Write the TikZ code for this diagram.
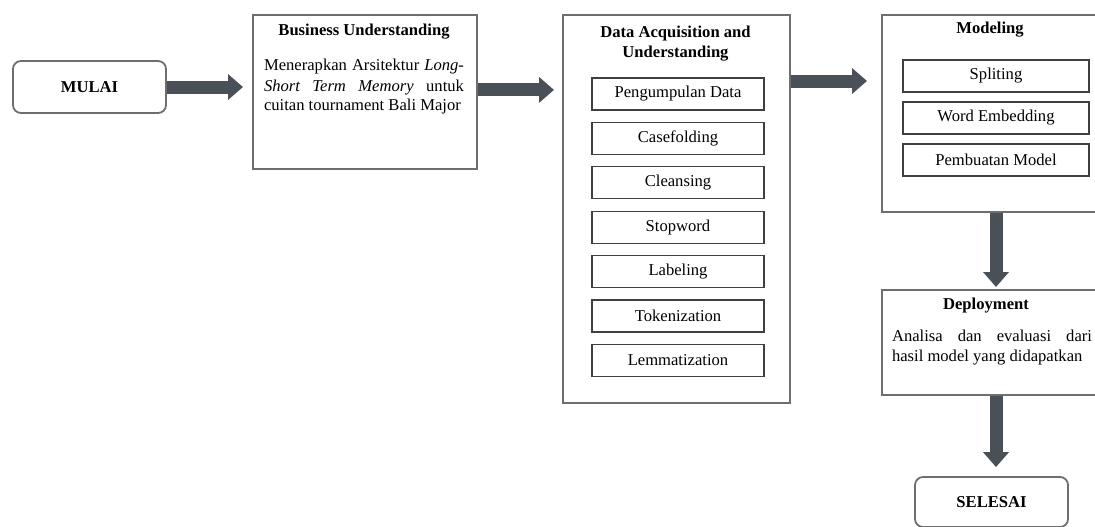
\documentclass[tikz,border=0pt]{standalone}
\usepackage{fontspec}
\setmainfont{Liberation Serif}
\usepackage{xcolor}
\usepackage{tikz}
\usetikzlibrary{arrows.meta}
\definecolor{framegray}{RGB}{110,110,110}
\definecolor{arrowgray}{RGB}{74,80,88}
\newcommand{\diagfont}{\fontsize{8.3}{10}\selectfont}
\tikzset{
	stagebox/.style = {draw=framegray, line width=0.9pt, anchor=north west, inner sep=0pt},
	stepbox/.style = {draw=black!75, line width=0.6pt, minimum width=86pt, minimum height=16pt, inner sep=0pt},
	endbox/.style = {draw=framegray, line width=0.9pt, rounded corners=4pt, minimum width=76.5pt, font=\diagfont\bfseries},
	stagetitle/.style = {font=\diagfont\bfseries, align=center, inner sep=0pt},
	stagetext/.style = {text width=100pt, align=justify, inner sep=0pt},
	bigarrow/.style = {draw=arrowgray, line width=6.5pt, -{Triangle[width=12.5pt,length=7.5pt]}}
}

\begin{document}
\begin{tikzpicture}[x=0.5pt, y=-0.5pt, font=\diagfont]
	\useasboundingbox (0,0) rectangle (1095,526);
	% start
	\node[endbox, minimum height=26pt] (mulai) at (89.5,87) {MULAI};
	% business understanding
	\node[stagebox, minimum width=112pt, minimum height=77pt] (bu) at (252,14) {};
	\node[stagetitle] (butitle) at (364,32) {Business Understanding};
	\node[stagetext] (butext) at (364,87) {Menerapkan Arsitektur \textit{Long-}\linebreak \textit{Short Term Memory} untuk\linebreak cuitan tournament Bali Major};
	% data acquisition and understanding
	\node[stagebox, minimum width=113.5pt, minimum height=194pt] (da) at (562,14) {};
	\node[stagetitle] (datitle) at (675.5,44) {Data Acquisition and\\Understanding};
	\foreach \name/\txt [count=\i from 0] in {pd/Pengumpulan Data, cf/Casefolding, cl/Cleansing, sw/Stopword, lb/Labeling, tk/Tokenization, lm/Lemmatization}
		\node[stepbox] (\name) at (678, 94+44.4*\i) {\txt};
	% modeling
	\node[stagebox, minimum width=108.5pt, minimum height=98.5pt] (mod) at (881,14) {};
	\node[stagetitle] (modtitle) at (990,30) {Modeling};
	\node[stepbox, minimum width=93pt] (sp) at (996,76) {Spliting};
	\node[stepbox, minimum width=93pt] (we) at (996,118) {Word Embedding};
	\node[stepbox, minimum width=93pt] (pm) at (996,160) {Pembuatan Model};
	% deployment
	\node[stagebox, minimum width=108.5pt, minimum height=52.5pt] (dep) at (881,289) {};
	\node[stagetitle] (deptitle) at (986,306) {Deployment};
	\node[stagetext] (deptext) at (992,348) {Analisa dan evaluasi dari\linebreak hasil model yang didapatkan};
	% end
	\node[endbox, minimum height=25pt] (selesai) at (991.5,502) {SELESAI};
	% arrows
	\draw[bigarrow, shorten >=4.5pt] (mulai.east) -- (mulai.east -| bu.west);
	\draw[bigarrow, shorten >=4pt] ([yshift=1pt]bu.east) -- ([yshift=1pt]bu.east -| da.west);
	\draw[bigarrow, shorten >=7pt] ([yshift=-33.5pt]da.north east) -- ([yshift=-33.5pt]da.north east -| mod.west);
	\draw[bigarrow, shorten >=1pt] (mod.south -| sp) -- (dep.north -| sp);
	\draw[bigarrow, shorten >=4.5pt] (dep.south -| sp) -- (selesai.north -| sp);
\end{tikzpicture}
\end{document}
